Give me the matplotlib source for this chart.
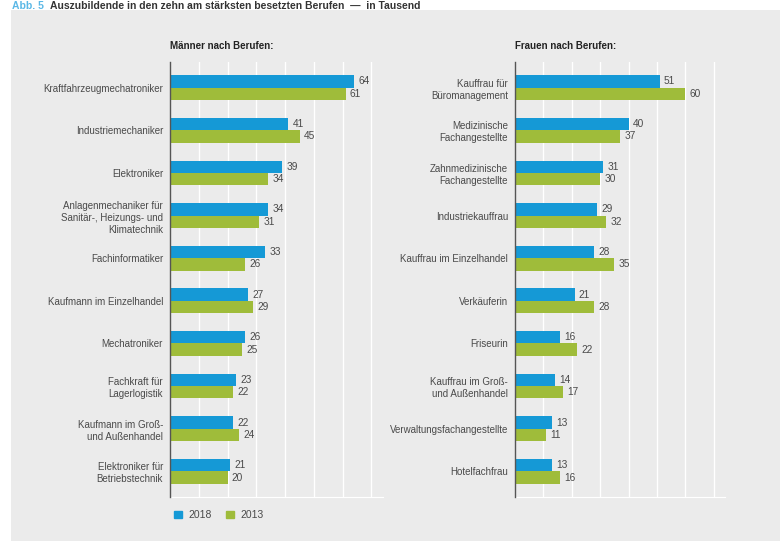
import numpy as np
import matplotlib.pyplot as plt

plt.rcParams['font.family'] = ['Liberation Sans', 'DejaVu Sans']

# Auszubildende in Tausend
berufe_m = ['Kraftfahrzeugmechatroniker', 'Industriemechaniker', 'Elektroniker',
            'Anlagenmechaniker für\nSanitär-, Heizungs- und\nKlimatechnik',
            'Fachinformatiker', 'Kaufmann im Einzelhandel', 'Mechatroniker',
            'Fachkraft für\nLagerlogistik', 'Kaufmann im Groß-\nund Außenhandel',
            'Elektroniker für\nBetriebstechnik']
m_2018 = [64, 41, 39, 34, 33, 27, 26, 23, 22, 21]
m_2013 = [61, 45, 34, 31, 26, 29, 25, 22, 24, 20]

berufe_w = ['Kauffrau für\nBüromanagement', 'Medizinische\nFachangestellte',
            'Zahnmedizinische\nFachangestellte', 'Industriekauffrau',
            'Kauffrau im Einzelhandel', 'Verkäuferin', 'Friseurin',
            'Kauffrau im Groß-\nund Außenhandel', 'Verwaltungsfachangestellte',
            'Hotelfachfrau']
w_2018 = [51, 40, 31, 29, 28, 21, 16, 14, 13, 13]
w_2013 = [60, 37, 30, 32, 35, 28, 22, 17, 11, 16]

jahre = ['2018', '2013']

blau = '#1599d6'
gruen = '#9fbc3a'
panel = '#ebebeb'
textgrau = '#4a4a4a'

fig = plt.figure(figsize=(7.8, 5.43), dpi=100)
fig.patch.set_facecolor('white')

# grauer Hintergrund hinter beiden Diagrammen
bg = plt.Rectangle((11/780, 2/543), 1, 531/543, transform=fig.transFigure,
                   facecolor=panel, edgecolor='none', zorder=-10)
fig.patches.append(bg)

# Überschrift oben
fig.text(12/780, 0.999, 'Abb. 5', color='#5bb8e6', fontsize=7.5, fontweight='bold',
         va='top', ha='left')
fig.text(50/780, 0.999, 'Auszubildende in den zehn am stärksten besetzten Berufen  —  in Tausend',
         color='#333333', fontsize=7.5, fontweight='bold', va='top', ha='left')

h = 0.29


def panel_plot(ax, labels, v18, v13, titel):
    y = np.arange(len(labels))
    ax.set_facecolor(panel)
    ax.barh(y - h / 2, v18, height=h, color=blau, zorder=3)
    ax.barh(y + h / 2, v13, height=h, color=gruen, zorder=3)
    for yi, a, b in zip(y, v18, v13):
        ax.text(a + 1.5, yi - h / 2, str(a), va='center', ha='left', fontsize=7.3,
                color=textgrau)
        ax.text(b + 1.5, yi + h / 2, str(b), va='center', ha='left', fontsize=7.3,
                color=textgrau)
    ax.set_yticks(y)
    ax.set_yticklabels(labels, fontsize=7, color=textgrau, linespacing=1.25)
    ax.tick_params(axis='y', length=0, pad=5)
    ax.set_ylim(9.6, -0.6)
    ax.set_xlim(0, 74)
    ax.set_xticks(np.arange(10, 71, 10))
    ax.tick_params(axis='x', length=0, labelbottom=False)
    ax.grid(axis='x', color='white', lw=1, zorder=1)
    for s in ['top', 'right']:
        ax.spines[s].set_visible(False)
    ax.spines['bottom'].set_color('white')
    ax.spines['left'].set_color('#555555')
    ax.spines['left'].set_linewidth(1)
    ax.spines['left'].set_zorder(4)
    ax.text(0, 1.025, titel, transform=ax.transAxes, fontsize=7, fontweight='bold',
            color='#222222', ha='left', va='bottom')


ax1 = fig.add_axes([170/780, 1 - 497/543, 213/780, 435/543], zorder=2)
ax2 = fig.add_axes([515/780, 1 - 497/543, 210/780, 435/543], zorder=2)
panel_plot(ax1, berufe_m, m_2018, m_2013, 'Männer nach Berufen:')
panel_plot(ax2, berufe_w, w_2018, w_2013, 'Frauen nach Berufen:')

# Legende
handles = [plt.Rectangle((0, 0), 1, 1, color=c) for c in (blau, gruen)]
fig.legend(handles, jahre, loc='center left', bbox_to_anchor=(165/780, 1 - 515/543),
           ncol=2, frameon=False, fontsize=7.5, handlelength=0.75, handleheight=0.75,
           handletextpad=0.6, columnspacing=1.4, labelcolor=textgrau)

fig.savefig('out.png', dpi=100)
